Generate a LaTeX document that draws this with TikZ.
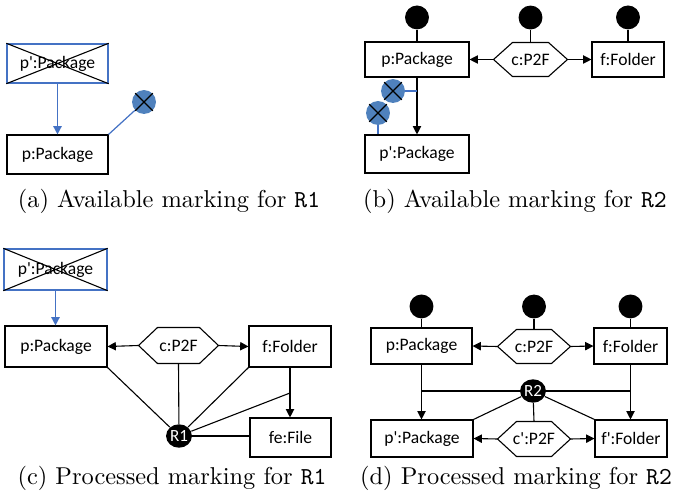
\documentclass[tikz,border=0pt]{standalone}
\usepackage{fontspec}
\newfontfamily\calfont{Carlito}
\usetikzlibrary{arrows.meta,calc,shapes.geometric}
\definecolor{mblue}{RGB}{68,114,196}
\definecolor{mfill}{RGB}{79,129,189}
\tikzset{
  lab/.style={font=\calfont\fontsize{7.2}{8.5}\selectfont},
  box/.style={draw, line width=0.45pt, inner sep=0pt, lab},
  xbox/.style={draw=mblue, line width=0.6pt, inner sep=0pt, lab},
  hexin/.style={inner sep=0pt, lab},
  conn/.style={line width=0.45pt},
  arr/.style={line width=0.45pt, -{Triangle[length=3.4pt,width=3.4pt]}},
  barr/.style={line width=0.6pt, mblue, -{Triangle[length=3.4pt,width=3.4pt]}},
  token/.style={circle, fill=black, minimum size=9.8pt, inner sep=0pt},
  xtoken/.style={circle, fill=mfill, minimum size=9.8pt, inner sep=0pt},
  rulenode/.style={ellipse, fill=black, minimum width=10.6pt, minimum height=9.6pt, inner sep=0pt, text=white, font=\calfont\fontsize{7}{8}\selectfont},
  captxt/.style={font=\fontsize{10}{12}\selectfont}
}
% generic rectangular node from corner coordinates (pixels)
\newcommand\gn[7]{\node[#1, minimum width={(#5-#3)*0.41pt}, minimum height={(#6-#4)*0.41pt}]
  (#2) at ({(#3+#5)/2},{(#4+#6)/2}) {#7};}
\newcommand\bx[6]{\gn{box}{#1}{#2}{#3}{#4}{#5}{#6}}
\newcommand\hx[6]{\gn{hexin}{#1}{#2}{#3}{#4}{#5}{#6}
  \draw[conn] (#1.west) -- ($(#1.north west)+(19,0)$) -- ($(#1.north east)+(-19,0)$) -- (#1.east)
    -- ($(#1.south east)+(-19,0)$) -- ($(#1.south west)+(19,0)$) -- cycle;}
\newcommand\crossout[1]{\draw[conn] (#1.north west) -- (#1.south east) (#1.north east) -- (#1.south west);}
\begin{document}
\begin{tikzpicture}[x=0.41pt, y=-0.41pt]
\useasboundingbox (0,0) rectangle (675,497);

% ---------- (a)
\gn{xbox}{apq}{7}{44}{108}{83}{p':Package}
\crossout{apq}
\bx{ap}{7}{135}{108}{174}{p:Package}
\node[xtoken] (ax) at (144,102) {};
\crossout{ax}
\draw[barr] (apq.south) -- (ap.north);
\draw[mblue, line width=0.5pt] (ap.north east) -- (ax);
\node[captxt] (capa) at (169,201) {(a) Available marking for \texttt{R1}};

% ---------- (b)
\bx{bp}{365}{42}{469}{77}{p:Package}
\hx{bc}{494}{43}{567}{76}{c:P2F}
\bx{bf}{592}{42}{664}{77}{f:Folder}
\bx{bpp}{365}{135}{469}{173}{p':Package}
\node[token] (bt1) at ($(bp.north)+(0,-24)$) {};
\node[token] (bt2) at ($(bc.north)+(0,-25)$) {};
\node[token] (bt3) at ($(bf.north)+(0,-24)$) {};
\draw[conn] (bt1) -- (bp.north);
\draw[conn] (bt2) -- (bc.north);
\draw[conn] (bt3) -- (bf.north);
\draw[arr] (bc.west) -- (bp.east);
\draw[arr] (bc.east) -- (bf.west);
\draw[arr] (bp.south) -- (bp.south |- bpp.north);
\node[xtoken] (bx1) at (393,91) {};
\crossout{bx1}
\node[xtoken] (bx2) at (378,113) {};
\crossout{bx2}
\coordinate (bk) at (bp.south |- bx1);
\draw[mblue, line width=0.5pt] (bx1) -- (bk);
\draw[mblue, line width=0.5pt] (bx2) -- (bx2 |- bpp.north);
\node[captxt] (capb) at (515,201) {(b) Available marking for \texttt{R2}};

% ---------- (c)
\gn{xbox}{cpq}{4}{249}{107}{290}{p':Package}
\crossout{cpq}
\bx{cp}{5}{326}{107}{367}{p:Package}
\hx{cc}{139}{328}{218}{363}{c:P2F}
\bx{cf}{249}{326}{331}{367}{f:Folder}
\bx{cfe}{250}{418}{331}{457}{fe:File}
\node[rulenode] (R1) at (179,436) {R1};
\draw[barr] (cpq.south) -- (cpq.south |- cp.north);
\draw[arr] (cc.west) -- (cp.east);
\draw[arr] (cc.east) -- (cf.west);
\draw[arr] (cf.south) -- (cf.south |- cfe.north);
\coordinate (ck) at (290,393);
\draw[conn] (cp.south east) -- (R1);
\draw[conn] (cc.south) -- (R1);
\draw[conn] (cf.south west) -- (R1);
\draw[conn] (ck) -- (R1);
\draw[conn] (R1) -- (R1 -| cfe.west);
\node[captxt] (capc) at (172,478) {(c) Processed marking for \texttt{R1}};

% ---------- (d)
\bx{dp}{371}{328}{472}{364}{p:Package}
\hx{dc}{498}{330}{570}{363}{c:P2F}
\bx{df}{594}{328}{667}{364}{f:Folder}
\bx{dpp}{371}{420}{473}{457}{p':Package}
\hx{dcc}{498}{422}{570}{456}{c':P2F}
\bx{dff}{595}{420}{667}{457}{f':Folder}
\node[token] (dt1) at ($(dp.north)+(0,-21)$) {};
\node[token] (dt2) at ($(dc.north)+(0,-23)$) {};
\node[token] (dt3) at ($(df.north)+(0,-21)$) {};
\draw[conn] (dt1) -- (dp.north);
\draw[conn] (dt2) -- (dc.north);
\draw[conn] (dt3) -- (df.north);
\draw[arr] (dc.west) -- (dp.east);
\draw[arr] (dc.east) -- (df.west);
\draw[arr] (dcc.west) -- (dpp.east);
\draw[arr] (dcc.east) -- (dff.west);
\draw[arr] (dp.south) -- (dp.south |- dpp.north);
\draw[arr] (df.south) -- (df.south |- dff.north);
\node[rulenode] (R2) at (533,391) {R2};
\draw[conn] (dp.south |- R2) -- (R2);
\draw[conn] (R2) -- (df.south |- R2);
\draw[conn] (R2) -- (dpp.north east);
\draw[conn] (R2) -- (dcc.north);
\draw[conn] (R2) -- (dff.north west);
\node[captxt] (capd) at (516,478) {(d) Processed marking for \texttt{R2}};
\end{tikzpicture}
\end{document}
